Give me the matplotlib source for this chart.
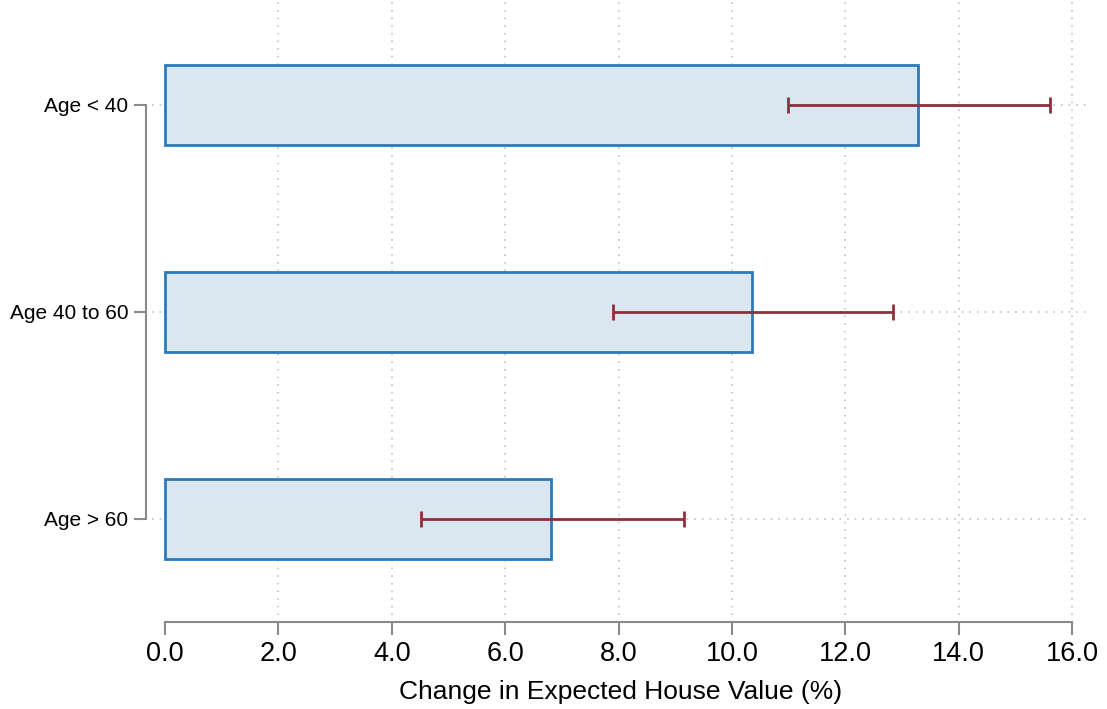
import matplotlib
matplotlib.use("Agg")
import matplotlib.pyplot as plt
import numpy as np

categories = ["Age < 40", "Age 40 to 60", "Age > 60"]
values = [13.28, 10.35, 6.81]
ci_low = [10.99, 7.90, 4.52]
ci_high = [15.61, 12.84, 9.16]
xticks = [0, 2, 4, 6, 8, 10, 12, 14, 16]
xlabel = "Change in Expected House Value (%)"

plt.rcParams['font.family'] = ['Liberation Sans', 'DejaVu Sans']

fig = plt.figure(figsize=(11.07, 7.09), dpi=100)
ax = fig.add_axes([152/1107, 1 - 615/709, (1090-152)/1107, 615/709])

ypos = np.arange(len(categories))
ax.set_xlim(-0.229, 16.317)
ax.set_ylim(2.464, -0.507)

grid_kw = dict(color='#b8b8b8', linestyle=(0, (1, 4)), linewidth=1.1, zorder=0)
for xt in xticks[1:]:
    ax.axvline(xt, **grid_kw)
for y in ypos:
    ax.axhline(y, **grid_kw)

ax.barh(ypos, values, height=0.386, color='#dae7f1', edgecolor='#2b7bba',
        linewidth=2.0, zorder=2)
ax.errorbar(values, ypos,
            xerr=[np.array(values) - np.array(ci_low), np.array(ci_high) - np.array(values)],
            fmt='none', ecolor='#8e2f3c', elinewidth=2.0, capsize=6, capthick=2.0, zorder=3)

for s in ['top', 'right']:
    ax.spines[s].set_visible(False)
for s in ['left', 'bottom']:
    ax.spines[s].set_color('#8a8a8a')
    ax.spines[s].set_linewidth(1.5)
ax.spines['left'].set_position(('outward', 4))
ax.spines['bottom'].set_position(('outward', 5))
ax.spines['left'].set_bounds(0, 2)
ax.spines['bottom'].set_bounds(0, 16)

ax.set_yticks(ypos)
ax.set_yticklabels(categories, fontsize=15)
ax.set_xticks(xticks)
ax.set_xticklabels([f"{v:.1f}" for v in xticks], fontsize=19.5)
ax.tick_params(axis='both', colors='#8a8a8a', width=1.5, length=9, labelcolor='black')
ax.tick_params(axis='x', pad=5)
ax.tick_params(axis='y', pad=4)
ax.set_xlabel(xlabel, fontsize=19, labelpad=9)

fig.savefig("out.png", dpi=100)
